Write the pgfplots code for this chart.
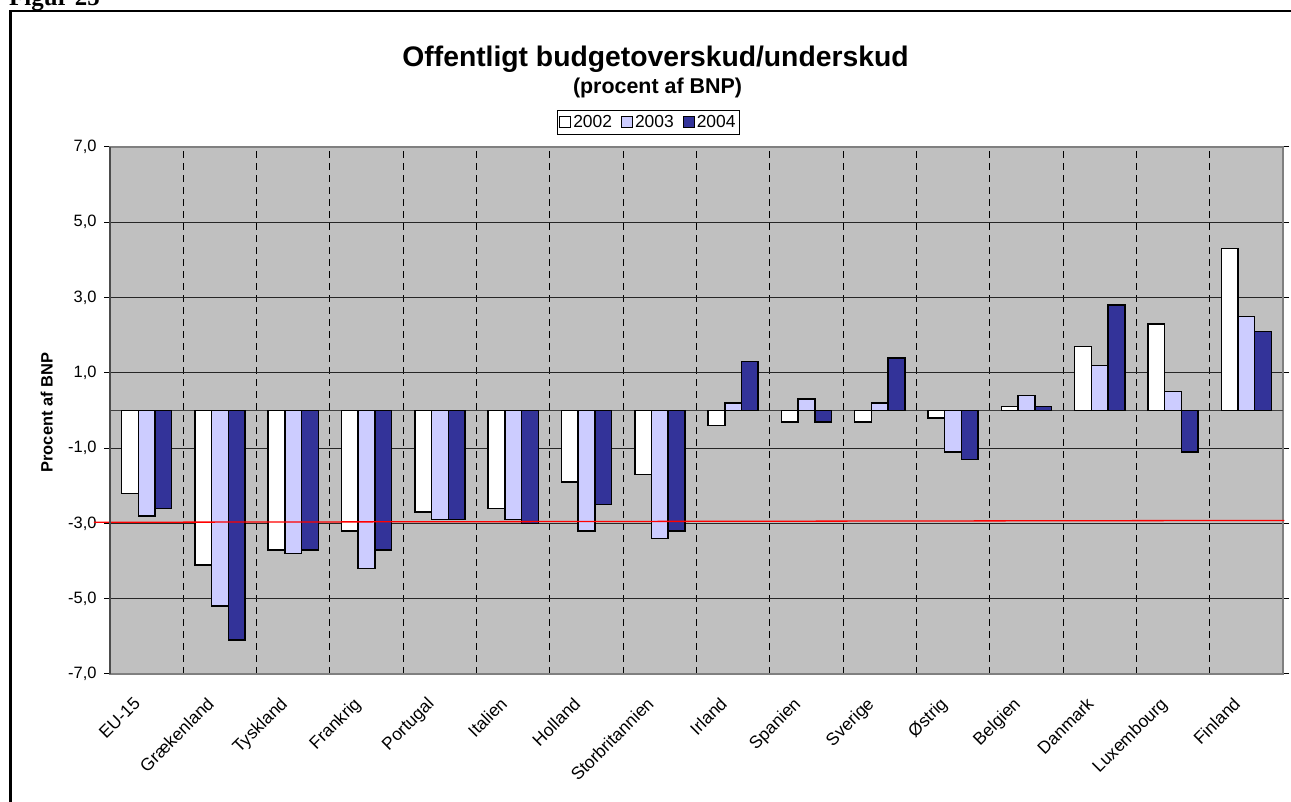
\documentclass[border=0pt]{standalone}
\usepackage{fontspec}
\setmainfont{Liberation Sans}
\newfontfamily\serifb{Liberation Serif}
\usepackage{pgfplots}
\pgfplotsset{compat=1.18}
\definecolor{bg}{HTML}{C0C0C0}
\definecolor{c03}{HTML}{CCCCFF}
\definecolor{c04}{HTML}{333399}
\definecolor{axgray}{HTML}{808080}
\begin{document}
\begin{tikzpicture}[x=1bp,y=1bp]
\useasboundingbox (0,0) rectangle (1291,802);
\node[anchor=base west, font=\serifb\bfseries\fontsize{25}{30}\selectfont, inner sep=0] at (9,796) {Figur 25};
\draw[line width=2.6bp] (10.7,-5) -- (10.7,790.8) -- (1300,790.8);
\node[anchor=base, font=\bfseries\fontsize{28.4}{33}\selectfont, inner sep=0] at (655.5,735.5) {Offentligt budgetoverskud/underskud};
\node[anchor=base, font=\bfseries\fontsize{21.5}{25}\selectfont, inner sep=0] at (657.5,708) {(procent af BNP)};
\begin{axis}[
  at={(110bp,128bp)}, anchor=south west, scale only axis,
  width=1173bp, height=527bp,
  xmin=-0.5, xmax=15.5, ymin=-7, ymax=7,
  clip=false,
  axis background/.style={fill=bg},
  axis line style={draw=axgray, line width=1.5bp},
  ybar, bar width=0.228,
  xtick={0,...,15},
  xticklabels={EU-15,Grækenland,Tyskland,Frankrig,Portugal,Italien,Holland,Storbritannien,Irland,Spanien,Sverige,Østrig,Belgien,Danmark,Luxembourg,Finland},
  minor xtick={0.5,1.5,...,14.5},
  xminorgrids,
  minor grid style={black, line width=0.9bp, dash pattern=on 7bp off 5bp},
  ytick={-7,-5,...,7},
  ymajorgrids,
  major grid style={black!85, line width=0.9bp},
  tick align=outside, major tick length=6bp,
  xtick style={draw=none},
  ytick style={black, line width=1bp},
  /pgf/number format/assume math mode=true,
  y tick label style={/pgf/number format/fixed, /pgf/number format/fixed zerofill, /pgf/number format/precision=1, /pgf/number format/use comma, xshift=-4bp},
  tick label style={font=\fontsize{16.5}{19}\selectfont},
  xticklabel style={font=\fontsize{17.5}{20}\selectfont, xshift=-14bp, yshift=-16bp, rotate=45, anchor=north east, inner sep=0pt},
  ylabel={Procent af BNP},
  ylabel style={font=\bfseries\fontsize{16.5}{19}\selectfont, at={(axis description cs:-0.054,0.496)}, anchor=center},
  legend columns=3,
  legend style={at={(0.459,1.0465)}, anchor=center, draw=black, line width=0.8bp, fill=white,
     font=\fontsize{17.5}{20}\selectfont, inner xsep=2bp, inner ysep=3bp,
     /tikz/every even column/.append style={column sep=7bp}},
  legend image code/.code={\draw[#1,/tikz/.cd,draw=black,line width=1bp] (0bp,-5.5bp) rectangle (11bp,5.5bp);},
]
\addplot[sharp plot, draw=black!75, line width=1bp, forget plot] coordinates {(-0.5,0) (15.5,0)};
\addplot[fill=white, draw=black, line width=1.5bp, bar shift=-0.228] coordinates {
(0,-2.2) (1,-4.1) (2,-3.7) (3,-3.2) (4,-2.7) (5,-2.6) (6,-1.9) (7,-1.7)
(8,-0.4) (9,-0.3) (10,-0.3) (11,-0.2) (12,0.1) (13,1.7) (14,2.3) (15,4.3)};
\addplot[fill=c03, draw=black, line width=1.5bp, bar shift=0] coordinates {
(0,-2.8) (1,-5.2) (2,-3.8) (3,-4.2) (4,-2.9) (5,-2.9) (6,-3.2) (7,-3.4)
(8,0.2) (9,0.3) (10,0.2) (11,-1.1) (12,0.4) (13,1.2) (14,0.5) (15,2.5)};
\addplot[fill=c04, draw=black, line width=1.5bp, bar shift=0.228] coordinates {
(0,-2.6) (1,-6.1) (2,-3.7) (3,-3.7) (4,-2.9) (5,-3.0) (6,-2.5) (7,-3.2)
(8,1.3) (9,-0.3) (10,1.4) (11,-1.3) (12,0.1) (13,2.8) (14,-1.1) (15,2.1)};
\addplot[sharp plot, draw=red, line width=1.3bp, forget plot] coordinates {(-0.72,-2.97) (15.52,-2.92)};
\draw[black!70, line width=1.5bp] (rel axis cs:0,0) -- (rel axis cs:0,1);
\legend{2002,2003,2004}
\end{axis}
\end{tikzpicture}
\end{document}
